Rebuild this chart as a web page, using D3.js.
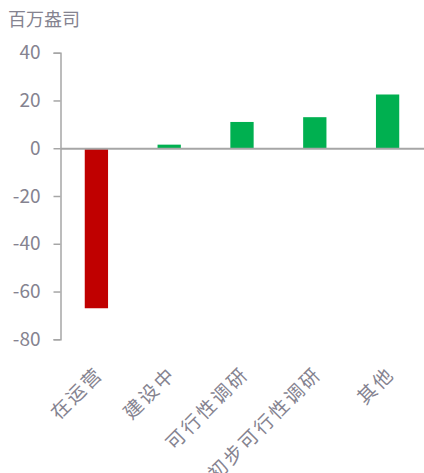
<!DOCTYPE html>
<html><head><meta charset="utf-8">
<script src="https://cdn.jsdelivr.net/npm/d3@7"></script>
<style>body{margin:0;background:#fff;}svg{display:block;}</style>
</head><body>
<svg id="c" width="424" height="473"></svg>
<script>
const categories = ["在运营","建设中","可行性调研","初步可行性调研","其他"];
const values = [-67, 1.5, 11, 13, 22.5];
const yTicks = [40, 20, 0, -20, -40, -60, -80];
const unitLabel = "百万盎司";

const svg = d3.select("#c");
const font = "'Noto Sans CJK SC', 'Noto Sans', sans-serif";
const textColor = "#858390";
const axisColor = "#a6a6a6";

const x = d3.scaleBand().domain(categories).range([60, 424]).paddingInner(0.68).paddingOuter(0.34);
const y = d3.scaleLinear().domain([-80, 40]).range([339.3, 52.7]);

// unit label
svg.append("text").attr("x", 8).attr("y", 26).text(unitLabel)
  .attr("font-family", font).attr("font-size", 18).attr("fill", textColor);

// bars
svg.selectAll("rect.bar").data(values).enter().append("rect")
  .attr("x", (d,i) => x(categories[i]))
  .attr("width", x.bandwidth())
  .attr("y", d => y(Math.max(0,d)))
  .attr("height", d => Math.abs(y(d) - y(0)))
  .attr("fill", d => d < 0 ? "#c00000" : "#00b050");

// y axis
const yAxis = d3.axisLeft(y).tickValues(yTicks).tickSize(7).tickPadding(13).tickFormat(d => String(d));
const ga = svg.append("g").attr("transform", "translate(60.5,0)").call(yAxis);
ga.select(".domain").attr("stroke", axisColor).attr("stroke-width", 1.5);
ga.selectAll(".tick line").attr("stroke", axisColor).attr("stroke-width", 1.5);
ga.selectAll(".tick text").attr("font-family", font).attr("font-size", 19).attr("fill", textColor);

// x axis at zero
const xAxis = d3.axisBottom(x).tickSize(0).tickPadding(0);
const gx = svg.append("g").attr("transform", `translate(0,${y(0)})`).call(xAxis);
gx.select(".domain").attr("stroke", axisColor).attr("stroke-width", 2);
gx.selectAll(".tick text").remove();

// category labels
svg.selectAll("text.cat").data(categories).enter().append("text")
  .attr("class","cat")
  .attr("transform", d => `translate(${x(d) + x.bandwidth()/2 + 8},${375}) rotate(-45)`)
  .attr("text-anchor", "end")
  .attr("letter-spacing", 2.5)
  .attr("font-family", font).attr("font-size", 19).attr("fill", textColor)
  .text(d => d);
</script>
</body></html>
